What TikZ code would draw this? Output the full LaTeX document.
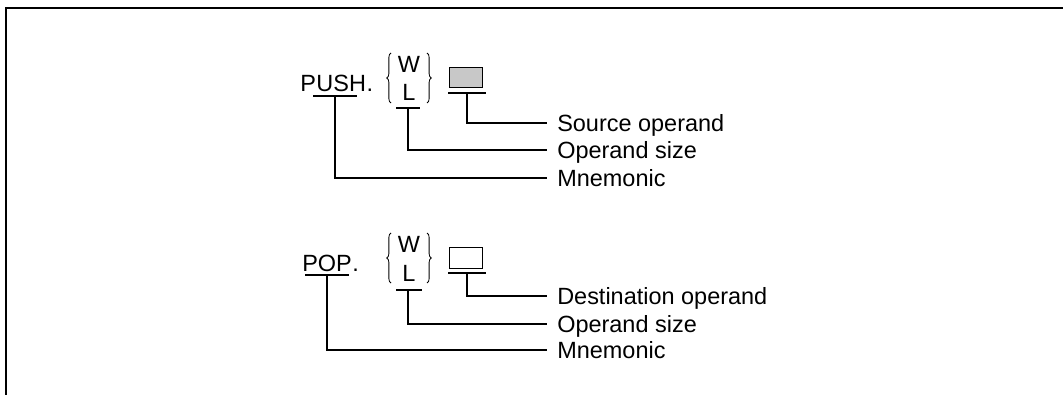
\documentclass[tikz,border=0pt]{standalone}
\usepackage{fontspec}
\setmainfont{Liberation Sans}
\usetikzlibrary{decorations.pathreplacing}
\definecolor{boxgray}{RGB}{200,200,200}
\begin{document}
\begin{tikzpicture}[x=0.75pt,y=-0.75pt,
  every node/.style={font=\fontsize{17.6}{20}\selectfont},
  txt/.style={inner sep=0pt, anchor=base west},
  lbl/.style={inner xsep=7.5pt, inner ysep=0pt, text height=12.6pt, text depth=0pt, anchor=west},
  wl/.style={inner sep=0pt},
  conn/.style={line width=0.9pt},
  bar/.style={line width=0.9pt},
  brc/.style={line width=0.6pt, decorate, decoration={brace, amplitude=3.2pt}},
  opbox/.style={draw, line width=0.9pt, minimum width=25pt, minimum height=15.5pt, inner sep=0pt},
  frame/.style={line width=1.4pt}
]
\useasboundingbox (0,0) rectangle (1063,395);
% frame
\coordinate (fTR) at (1063,8);
\coordinate (fTL) at (6,8);
\coordinate (fBL) at (6,395);
\draw[frame] (fTR) -- (fTL) -- (fBL);

% ---------------- PUSH ----------------
\node[txt] (pP) at (300,92) {P};
\node[txt] (pU) at (pP.base east) {USH};
\node[txt] (pD) at (pU.base east) {.};
\coordinate (pUa) at (313,96);
\coordinate (pUb) at (357,96);
\coordinate (pUm) at (335,96);
\draw[bar] (pUa) -- (pUb);

\node[wl] (pW) at (409,64.5) {W};
\node[wl] (pL) at (409,92.5) {L};
\coordinate (pBl1) at (391,103);
\coordinate (pBl2) at (391,53);
\coordinate (pBr1) at (427,53);
\coordinate (pBr2) at (427,103);
\draw[brc] (pBl1) -- (pBl2);
\draw[brc] (pBr1) -- (pBr2);
\coordinate (pLa) at (396,108);
\coordinate (pLb) at (420,108);
\coordinate (pLm) at (408,108);
\draw[bar] (pLa) -- (pLb);

\node[opbox, fill=boxgray] (pBox) at (466,77.5) {};
\coordinate (pSa) at (448,93);
\coordinate (pSb) at (486,93);
\coordinate (pSm) at (467,93);
\draw[bar] (pSa) -- (pSb);

\node[lbl] (pSrc) at (547,123) {Source operand};
\node[lbl] (pSize) at (547,150) {Operand size};
\node[lbl] (pMn) at (547,178) {Mnemonic};

\draw[conn] (pSm) |- (pSrc.west);
\draw[conn] (pLm) |- (pSize.west);
\draw[conn] (pUm) |- (pMn.west);

% ---------------- POP ----------------
\node[txt] (qP) at (302,272) {POP};
\node[txt] (qD) at (qP.base east) {.};
\coordinate (qUa) at (305,275);
\coordinate (qUb) at (349,275);
\coordinate (qUm) at (327,275);
\draw[bar] (qUa) -- (qUb);

\node[wl] (qW) at (409,244.5) {W};
\node[wl] (qL) at (409,273.5) {L};
\coordinate (qBl1) at (391,283);
\coordinate (qBl2) at (391,233);
\coordinate (qBr1) at (427,233);
\coordinate (qBr2) at (427,283);
\draw[brc] (qBl1) -- (qBl2);
\draw[brc] (qBr1) -- (qBr2);
\coordinate (qLa) at (396,290);
\coordinate (qLb) at (422,290);
\coordinate (qLm) at (408,290);
\draw[bar] (qLa) -- (qLb);

\node[opbox, fill=white] (qBox) at (466,258) {};
\coordinate (qSa) at (448,273);
\coordinate (qSb) at (486,273);
\coordinate (qSm) at (467,273);
\draw[bar] (qSa) -- (qSb);

\node[lbl] (qDst) at (547,296) {Destination operand};
\node[lbl] (qSize) at (547,324) {Operand size};
\node[lbl] (qMn) at (547,350) {Mnemonic};

\draw[conn] (qSm) |- (qDst.west);
\draw[conn] (qLm) |- (qSize.west);
\draw[conn] (qUm) |- (qMn.west);
\end{tikzpicture}
\end{document}
